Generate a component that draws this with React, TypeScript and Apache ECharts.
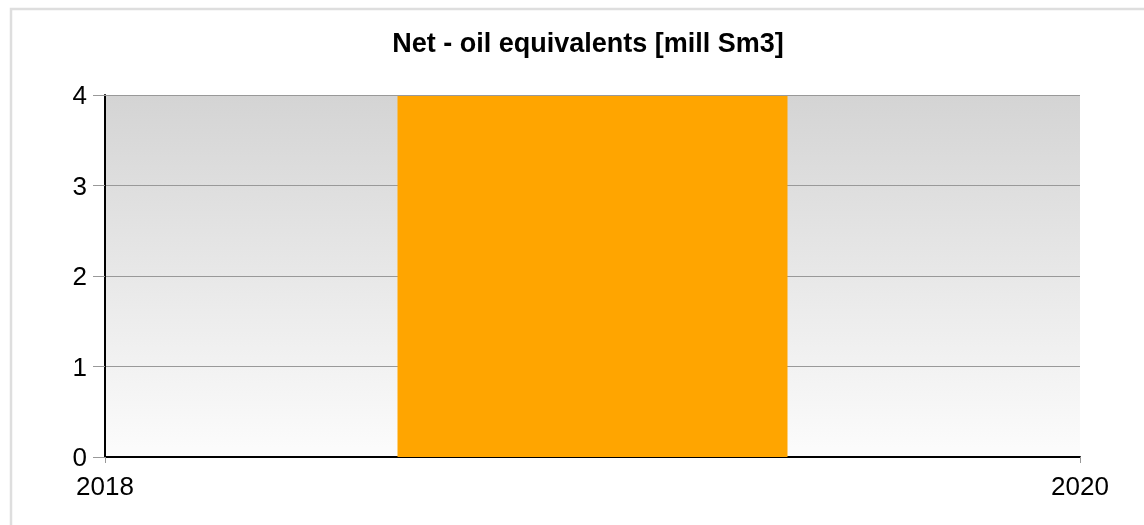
import React, { useEffect, useRef } from "react";
import * as echarts from "echarts";

const years = [2019];
const values = [4];
const barSpan = 0.8; // years covered by each bar
const xTicks = [2018, 2020];
const yTicks = [0, 1, 2, 3, 4];
const titleText = "Net - oil equivalents [mill Sm3]";

export default function App() {
  const ref = useRef<HTMLDivElement>(null);
  useEffect(() => {
    if (!ref.current) return;
    const chart = echarts.init(ref.current, undefined, { renderer: "svg" });
    const font = "Liberation Sans, Arial, sans-serif";
    chart.setOption({
      animation: false,
      title: {
        text: titleText,
        left: 583,
        top: 24,
        textAlign: "center",
        textStyle: { fontSize: 27, fontWeight: "bold", fontFamily: font, color: "#000" },
      },
      graphic: [
        {
          type: "rect",
          shape: { x: 11, y: 9, width: 1300, height: 800 },
          style: { fill: "none", stroke: "#dedede", lineWidth: 2.5 },
          silent: true,
        },
      ],
      grid: {
        left: 105,
        right: 64,
        top: 95,
        bottom: 68,
        show: true,
        borderWidth: 0,
        backgroundColor: new echarts.graphic.LinearGradient(0, 0, 0, 1, [
          { offset: 0, color: "#d4d4d4" },
          { offset: 1, color: "#fcfcfc" },
        ]),
      },
      xAxis: {
        type: "value",
        min: xTicks[0],
        max: xTicks[xTicks.length - 1],
        interval: xTicks[1] - xTicks[0],
        axisLine: { show: true, lineStyle: { color: "#000", width: 2 } },
        axisTick: { show: true, length: 6, lineStyle: { color: "#999" } },
        axisLabel: {
          fontSize: 26,
          color: "#000",
          fontFamily: font,
          margin: 16,
          formatter: (v: number) => String(v),
        },
        splitLine: { show: false },
      },
      yAxis: {
        type: "value",
        min: yTicks[0],
        max: yTicks[yTicks.length - 1],
        interval: 1,
        axisLine: { show: true, lineStyle: { color: "#000", width: 2 } },
        axisTick: { show: true, length: 12, lineStyle: { color: "#999" } },
        axisLabel: { fontSize: 26, color: "#000", fontFamily: font, margin: 18 },
        splitLine: { show: true, lineStyle: { color: "#999", width: 1 } },
      },
      series: [
        {
          type: "custom",
          data: years.map((y, i) => [y, values[i]]),
          encode: { x: 0, y: 1 },
          z: 1,
          renderItem: (params: any, api: any) => {
            const x = api.value(0);
            const v = api.value(1);
            const p0 = api.coord([x - barSpan / 2, 0]);
            const p1 = api.coord([x + barSpan / 2, v]);
            return {
              type: "rect",
              shape: { x: p0[0], y: p1[1], width: p1[0] - p0[0], height: p0[1] - p1[1] },
              style: { fill: "#ffa500" },
            };
          },
        },
        {
          type: "line",
          data: [],
          markLine: {
            silent: true,
            symbol: "none",
            label: { show: false },
            lineStyle: { color: "#999", width: 1, type: "solid" },
            data: [{ yAxis: yTicks[yTicks.length - 1] }],
          },
        },
      ],
    });
    return () => chart.dispose();
  }, []);
  return (
    <div
      ref={ref}
      style={{ position: "fixed", left: 0, top: 0, width: 1144, height: 525 }}
    />
  );
}
